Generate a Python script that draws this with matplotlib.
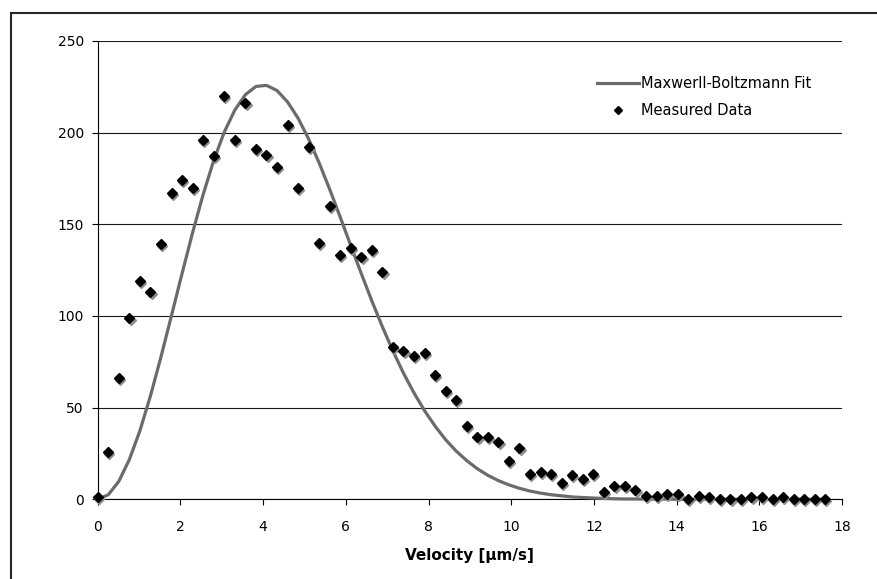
import numpy as np
import matplotlib
matplotlib.use("Agg")
import matplotlib.pyplot as plt
import matplotlib.patches as patches
from matplotlib.transforms import offset_copy

# velocity bins [um/s]
velocity = [0.0, 0.255, 0.51, 0.765, 1.02, 1.275, 1.53, 1.785, 2.04, 2.295,
            2.55, 2.805, 3.06, 3.315, 3.57, 3.825, 4.08, 4.335, 4.59, 4.845,
            5.1, 5.355, 5.61, 5.865, 6.12, 6.375, 6.63, 6.885, 7.14, 7.395,
            7.65, 7.905, 8.16, 8.415, 8.67, 8.925, 9.18, 9.435, 9.69, 9.945,
            10.2, 10.455, 10.71, 10.965, 11.22, 11.475, 11.73, 11.985, 12.24, 12.495,
            12.75, 13.005, 13.26, 13.515, 13.77, 14.025, 14.28, 14.535, 14.79, 15.045,
            15.3, 15.555, 15.81, 16.065, 16.32, 16.575, 16.83, 17.085, 17.34, 17.595]

# measured counts
measured = [1, 26, 66, 99, 119, 113, 139, 167, 174, 170,
            196, 187, 220, 196, 216, 191, 188, 181, 204, 170,
            192, 140, 160, 133, 137, 132, 136, 124, 83, 81,
            78, 80, 68, 59, 54, 40, 34, 34, 31, 21,
            28, 14, 15, 14, 9, 13, 11, 14, 4, 7,
            7, 5, 2, 2, 3, 3, 0, 2, 1, 0,
            0, 0, 1, 1, 0, 1, 0, 0, 0, 0]

# Maxwell-Boltzmann fit
mb_fit = [0.0, 2.5, 9.8, 21.7, 37.4, 56.4, 77.7, 100.3, 123.2, 145.5,
          166.3, 184.8, 200.3, 212.3, 220.7, 225.2, 225.8, 223.0, 216.8, 207.9,
          196.6, 183.5, 169.1, 153.9, 138.4, 123.1, 108.2, 94.1, 80.9, 68.8,
          58.0, 48.3, 39.9, 32.5, 26.3, 21.1, 16.7, 13.1, 10.2, 7.9,
          6.0, 4.5, 3.4, 2.5, 1.9, 1.3, 1.0, 0.7, 0.5, 0.3,
          0.2, 0.2, 0.1, 0.1, 0.1, 0.0, 0.0, 0.0, 0.0, 0.0,
          0.0, 0.0, 0.0, 0.0, 0.0, 0.0, 0.0, 0.0, 0.0, 0.0]

xticks = [0, 2, 4, 6, 8, 10, 12, 14, 16, 18]
yticks = [0, 50, 100, 150, 200, 250]

plt.rcParams['font.family'] = ['DejaVu Sans']
plt.rcParams['font.size'] = 10

fig = plt.figure(figsize=(8.78, 5.79), dpi=100)
ax = fig.add_axes([0.1113, 0.1376, 0.8477, 0.7916])

# outer chart frame (right/bottom edge cut off)
fig.patches.append(patches.Rectangle((0.0125, -0.2), 1.2, 0.9775 + 0.2, transform=fig.transFigure,
                                     fill=False, ec='#262626', lw=1.5))

line_fit, = ax.plot(velocity, mb_fit, color='#6b6b6b', lw=2.3, zorder=3, clip_on=False,
                    solid_capstyle='butt', solid_joinstyle='round')

# grey drop shadow under the diamonds
shadow = offset_copy(ax.transData, fig=fig, x=1.2, y=-2.0, units='dots')
ax.plot(velocity, measured, ls='none', marker='D', ms=4.8, color='#8f8f8f', mec='#8f8f8f',
        transform=shadow, zorder=4, clip_on=False)
pts, = ax.plot(velocity, measured, ls='none', marker='D', ms=4.8, color='black', mec='black',
               zorder=5, clip_on=False)

ax.set_xlim(0, 18)
ax.set_ylim(0, 250)
ax.set_xticks(xticks)
ax.set_yticks(yticks)
ax.yaxis.grid(True, color='#1a1a1a', lw=0.8)
ax.set_axisbelow(True)
for s in ['top', 'right']:
    ax.spines[s].set_visible(False)
ax.spines['left'].set_linewidth(0.8)
ax.spines['bottom'].set_linewidth(0.8)
ax.tick_params(axis='both', direction='out', length=4, width=0.8, colors='black')
ax.tick_params(axis='x', pad=11)
ax.tick_params(axis='y', pad=6)

ax.set_xlabel('Velocity [µm/s]', fontweight='bold', fontsize=11, labelpad=10)

leg_fit, = ax.plot([], [], color='#6b6b6b', lw=2.3)
leg_pts, = ax.plot([], [], ls='none', marker='D', ms=4.0, color='black')
ax.legend([leg_fit, leg_pts], ['Maxwerll-Boltzmann Fit', 'Measured Data'],
          loc='upper left', bbox_to_anchor=(597 / 878, 1 - 76 / 579), bbox_transform=fig.transFigure,
          frameon=False, borderpad=0, borderaxespad=0, handlelength=2.85, handletextpad=0.2,
          labelspacing=0.8, fontsize=10.5)

fig.savefig('out.png', dpi=100)
